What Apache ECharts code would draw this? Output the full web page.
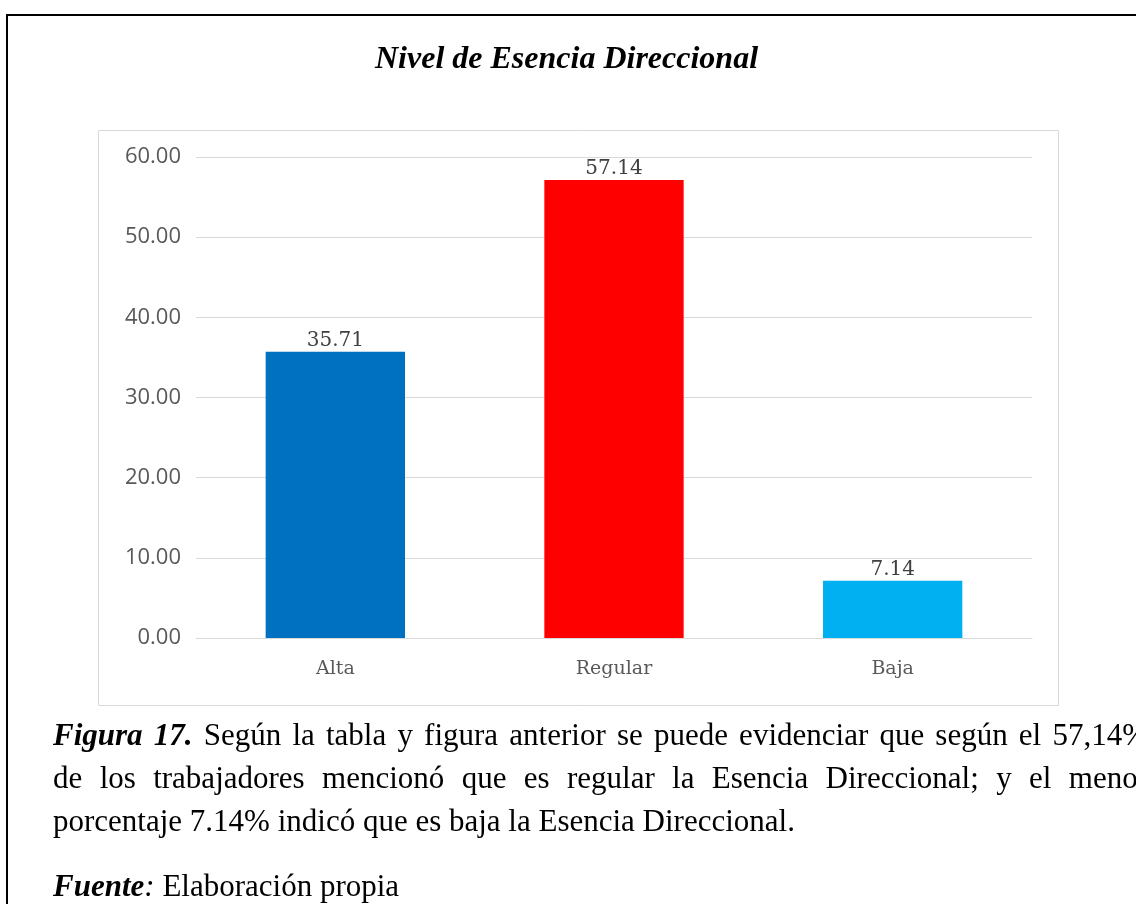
<!DOCTYPE html>
<html>
<head>
<meta charset="utf-8">
<script src="https://cdn.jsdelivr.net/npm/echarts@6/dist/echarts.min.js"></script>
<style>
  html, body { margin: 0; padding: 0; background: #fff; overflow: hidden; }
  #wrap { position: relative; width: 1136px; height: 904px; overflow: hidden; }
  #main { position: absolute; left: 0; top: 0; width: 1136px; height: 904px; }
  #caption {
    position: absolute; left: 53px; top: 713px; width: 1095px;
    font-family: "Liberation Serif", serif; font-size: 31px; line-height: 43px; color: #000;
    white-space: nowrap;
  }
  #caption .j { text-align: justify; text-align-last: justify; white-space: normal; }
  #caption .src { margin-top: 22px; }
  #caption b { font-style: italic; }
</style>
</head>
<body>
<div id="wrap">
  <div id="main"></div>
  <div id="caption">
    <div class="j"><b>Figura 17.</b> Según la tabla y figura anterior se puede evidenciar que según el 57,14%</div>
    <div class="j">de los trabajadores mencionó que es regular la Esencia Direccional; y el menor</div>
    <div>porcentaje 7.14% indicó que es baja la Esencia Direccional.</div>
    <div class="src"><b>Fuente</b><i>:</i> Elaboración propia</div>
  </div>
</div>
<script>
var categories = ['Alta', 'Regular', 'Baja'];
var values = [35.71, 57.14, 7.14];
var barColors = ['#0070C0', '#FF0000', '#00B0F0'];

var myChart = echarts.init(document.getElementById('main'));

var option = {
    animation: false,
    title: {
        text: 'Nivel de Esencia Direccional',
        left: 370,
        top: 39,
        textStyle: {
            fontFamily: 'Liberation Serif',
            fontStyle: 'italic',
            fontWeight: 'bold',
            fontSize: 32,
            color: '#000'
        }
    },
    graphic: [
        // marco exterior negro
        {
            type: 'rect',
            shape: { x: 7, y: 15, width: 1200, height: 1000 },
            style: { fill: 'none', stroke: '#000', lineWidth: 2 },
            silent: true
        },
        // borde del área del gráfico
        {
            type: 'rect',
            shape: { x: 98.5, y: 130.5, width: 960, height: 575 },
            style: { fill: 'none', stroke: '#d9d9d9', lineWidth: 1 },
            silent: true
        }
    ],
    grid: {
        left: 196,
        right: 104,
        top: 157,
        bottom: 266
    },
    xAxis: {
        type: 'category',
        data: categories,
        axisTick: { show: false },
        axisLine: { lineStyle: { color: '#d9d9d9', width: 1 } },
        axisLabel: {
            margin: 22,
            color: '#595959',
            fontFamily: 'DejaVu Serif',
            fontSize: 19
        }
    },
    yAxis: {
        type: 'value',
        min: 0,
        max: 60,
        interval: 10,
        axisLine: { show: false },
        axisTick: { show: false },
        axisLabel: {
            margin: 15,
            color: '#595959',
            fontFamily: 'Open Sans',
            fontSize: 22,
            formatter: function (v) { return v.toFixed(2); }
        },
        splitLine: { lineStyle: { color: '#d9d9d9', width: 1 } }
    },
    series: [{
        type: 'bar',
        barWidth: '50%',
        data: values.map(function (v, i) {
            return { value: v, itemStyle: { color: barColors[i] } };
        }),
        label: {
            show: true,
            position: 'top',
            distance: 1,
            color: '#404040',
            fontFamily: 'DejaVu Serif',
            fontSize: 20,
            formatter: function (p) { return p.value.toFixed(2); }
        }
    }]
};

myChart.setOption(option);
</script>
</body>
</html>
